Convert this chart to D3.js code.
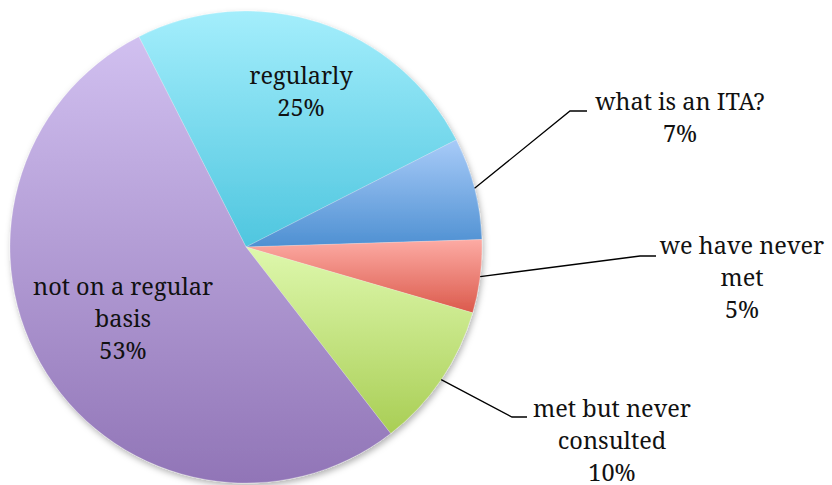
<!DOCTYPE html>
<html>
<head>
<meta charset="utf-8">
<script src="https://cdn.jsdelivr.net/npm/d3@7"></script>
<style>
  html, body { margin: 0; padding: 0; background: #fff; }
</style>
</head>
<body>
<svg id="chart" width="832" height="485"></svg>
<script>
// 数据：各类别与占比
const categories = ["regularly", "what is an ITA?", "we have never met", "met but never consulted", "not on a regular basis"];
const values = [25, 7, 5, 10, 53];
const labelLines = [
  ["regularly"],
  ["what is an ITA?"],
  ["we have never", "met"],
  ["met but never", "consulted"],
  ["not on a regular", "basis"],
];
// 渐变颜色（上浅下深）
const topColors = ["#a4eefc", "#a8cbf8", "#fdaba4", "#def8ad", "#d1c0f0"];
const bottomColors = ["#4fc6df", "#4e90d2", "#db5a4c", "#a9ce55", "#9175b7"];

// 布局
const cx = 246, cy = 247, R = 236;
const startDeg = -27;
const lineH = 32;
const FONT = "'Noto Serif', 'DejaVu Serif', serif";
// 标签位置：inside = 直接放在扇区内；其余带引线（折点、水平终点、文字中心、首行基线）
const labelLayout = [
  { inside: true, x: 301, y: 84 },
  { elbow: [570, 111], end: 587, tx: 680, ty: 110 },
  { elbow: [640, 256], end: 656, tx: 742, ty: 254 },
  { elbow: [512, 417], end: 527, tx: 612, ty: 417 },
  { inside: true, x: 123, y: 295 },
];

const svg = d3.select("#chart");
const defs = svg.append("defs");

const f = defs.append("filter").attr("id", "shadow")
  .attr("x", "-10%").attr("y", "-10%").attr("width", "120%").attr("height", "120%");
f.append("feDropShadow").attr("dx", 1.5).attr("dy", 3).attr("stdDeviation", 3)
  .attr("flood-color", "#000").attr("flood-opacity", 0.3);

categories.forEach((c, i) => {
  const g = defs.append("linearGradient").attr("id", "grad" + i)
    .attr("x1", 0).attr("y1", 0).attr("x2", 0).attr("y2", 1);
  g.append("stop").attr("offset", "0%").attr("stop-color", topColors[i]);
  g.append("stop").attr("offset", "100%").attr("stop-color", bottomColors[i]);
});

const pie = d3.pie().sort(null).value((d) => d)
  .startAngle(startDeg * Math.PI / 180)
  .endAngle((startDeg + 360) * Math.PI / 180);
const arcs = pie(values);
const arc = d3.arc().innerRadius(0).outerRadius(R);

const root = svg.append("g").attr("transform", `translate(${cx},${cy})`);
const slices = root.append("g").attr("filter", "url(#shadow)");
slices.selectAll("path").data(arcs).join("path")
  .attr("d", arc)
  .attr("fill", (d, i) => `url(#grad${i})`)
  .attr("stroke", "rgba(255,255,255,0.35)")
  .attr("stroke-width", 0.6);

// 标签
arcs.forEach((a, i) => {
  const L = labelLayout[i];
  const lines = labelLines[i].concat([values[i] + "%"]);
  let tx, ty;
  if (L.inside) {
    tx = L.x; ty = L.y;
  } else {
    const mid = (a.startAngle + a.endAngle) / 2;
    const px = cx + R * Math.sin(mid), py = cy - R * Math.cos(mid);
    svg.append("polyline")
      .attr("points", [[px, py], L.elbow, [L.end, L.elbow[1]]].map((p) => p.join(",")).join(" "))
      .attr("fill", "none").attr("stroke", "#000").attr("stroke-width", 1.3);
    tx = L.tx; ty = L.ty;
  }
  const t = svg.append("text")
    .attr("text-anchor", "middle")
    .attr("font-family", FONT)
    .attr("font-size", 23.5)
    .attr("fill", "#111");
  lines.forEach((s, k) => {
    t.append("tspan").attr("x", tx).attr("y", ty + k * lineH).text(s);
  });
});
</script>
</body>
</html>
